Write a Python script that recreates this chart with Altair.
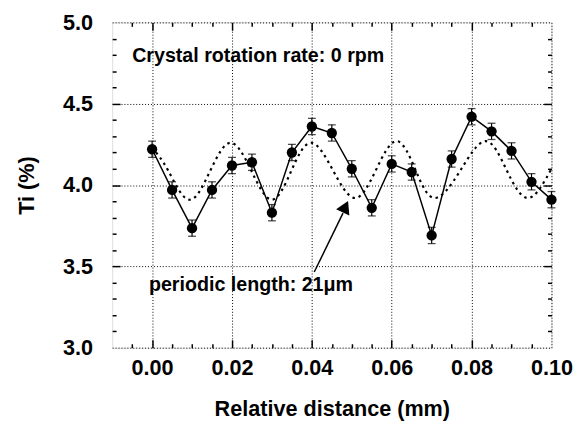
import altair as alt
import pandas as pd

# ---- data ----
distance = [0.000, 0.005, 0.010, 0.015, 0.020, 0.025, 0.030, 0.035, 0.040, 0.045, 0.050,
            0.055, 0.060, 0.065, 0.070, 0.075, 0.080, 0.085, 0.090, 0.095, 0.100]
ti = [4.22, 3.97, 3.735, 3.97, 4.12, 4.14, 3.83, 4.20, 4.36, 4.32, 4.10,
      3.86, 4.13, 4.08, 3.69, 4.16, 4.42, 4.33, 4.21, 4.02, 3.91]
ti_err = [0.05, 0.05, 0.05, 0.05, 0.05, 0.05, 0.05, 0.05, 0.05, 0.05, 0.05,
          0.05, 0.05, 0.05, 0.05, 0.05, 0.05, 0.05, 0.05, 0.05, 0.05]

# dotted periodic curve (period ~21 um), read at extrema and mid-crossings
fit_x = [0.0000, 0.0040, 0.0092, 0.0144, 0.0196, 0.0248, 0.0300, 0.0349, 0.0398, 0.0453,
         0.0508, 0.0560, 0.0612, 0.0660, 0.0708, 0.0772, 0.0835, 0.0888, 0.0942, 0.1000]
fit_y = [4.23, 4.09, 3.91, 4.08, 4.26, 4.09, 3.91, 4.09, 4.26, 4.09,
         3.92, 4.09, 4.27, 4.09, 3.92, 4.09, 4.27, 4.09, 3.92, 4.10]

x_major = [0.00, 0.02, 0.04, 0.06, 0.08, 0.10]
x_minor = [-0.005, 0.000, 0.005, 0.010, 0.015, 0.020, 0.025, 0.030, 0.035, 0.040, 0.045,
           0.050, 0.055, 0.060, 0.065, 0.070, 0.075, 0.080, 0.085, 0.090, 0.095]
y_major = [3.0, 3.5, 4.0, 4.5, 5.0]
y_minor = [3.1, 3.2, 3.3, 3.4, 3.5, 3.6, 3.7, 3.8, 3.9, 4.0,
           4.1, 4.2, 4.3, 4.4, 4.5, 4.6, 4.7, 4.8, 4.9]

note_text = ["Crystal rotation rate: 0 rpm", "periodic length: 21\u03bcm"]
note_x = [-0.0050, -0.0008]
note_y = [4.756, 3.349]

arrow_x = [0.0406]
arrow_y = [3.465]
arrow_x2 = [0.0478]
arrow_y2 = [3.827]
head_x = [0.0484]
head_y = [3.867]

# ---- tables ----
pts = pd.DataFrame({"d": distance, "ti": ti, "err": ti_err})
fit = pd.DataFrame({"d": fit_x, "ti": fit_y})
notes = pd.DataFrame({"d": note_x, "ti": note_y, "t": note_text})
arrow = pd.DataFrame({"d": arrow_x, "ti": arrow_y, "d2": arrow_x2, "ti2": arrow_y2})
head = pd.DataFrame({"d": head_x, "ti": head_y})

W, H = 447, 331
FONT = "Liberation Sans"
XS = alt.Scale(domain=[-0.01, 0.10], nice=False, zero=False)
YS = alt.Scale(domain=[3.0, 5.0], nice=False, zero=False)

x_major_test = "abs(datum.value * 50 - round(datum.value * 50)) < 0.01"
y_major_test = "abs(datum.value * 2 - round(datum.value * 2)) < 0.01"

common_lab = dict(labelFont=FONT, labelFontSize=22, labelFontWeight="bold", labelColor="black",
                  titleFont=FONT, titleFontSize=22, titleFontWeight="bold", titleColor="black")

x_main = alt.Axis(values=x_major, format=".2f", title="Relative distance (mm)", grid=True,
                  gridDash=[1, 2], gridColor="black", gridWidth=1, ticks=False, tickSize=0,
                  domain=False, labelPadding=10, titlePadding=21, labelFlush=False,
                  labelOverlap=False, **common_lab)
y_main = alt.Axis(values=y_major, format=".1f", title="Ti (%)", grid=True,
                  gridDash=[1, 2], gridColor="black", gridWidth=1, ticks=False, tickSize=0,
                  domain=False, labelPadding=20, titlePadding=24, labelOverlap=False, **common_lab)

def tick_axis(orient, offset, values, test):
    return alt.Axis(orient=orient, offset=offset, values=values, labels=False, domain=False,
                    grid=False, title=None, tickColor="black", tickWidth=1.5,
                    tickSize={"condition": {"test": test, "value": 8}, "value": 4})

x_in_bottom = tick_axis("top", -H, x_minor, x_major_test)
x_in_top = tick_axis("bottom", -H, x_minor, x_major_test)
y_in_left = tick_axis("right", -W, y_minor, y_major_test)
y_in_right = tick_axis("left", -W, y_minor, y_major_test)

curve = alt.Chart(fit).mark_line(
    color="black", strokeWidth=2.2, strokeDash=[2.5, 4], interpolate="natural"
).encode(
    x=alt.X("d:Q", scale=XS, axis=x_main),
    y=alt.Y("ti:Q", scale=YS, axis=y_main),
)

bars = alt.Chart(pts).transform_calculate(
    lo="datum.ti - datum.err", hi="datum.ti + datum.err"
).mark_rule(color="black", strokeWidth=1.2).encode(
    x=alt.X("d:Q", scale=XS, axis=x_in_bottom),
    y=alt.Y("lo:Q", scale=YS, axis=y_in_left),
    y2="hi:Q",
)

caps_lo = alt.Chart(pts).transform_calculate(
    lo="datum.ti - datum.err"
).mark_tick(color="black", thickness=1.3, size=8, orient="horizontal").encode(
    x=alt.X("d:Q", scale=XS, axis=x_in_top),
    y=alt.Y("lo:Q", scale=YS, axis=y_in_right),
)
caps_hi = alt.Chart(pts).transform_calculate(
    hi="datum.ti + datum.err"
).mark_tick(color="black", thickness=1.3, size=8, orient="horizontal").encode(
    x=alt.X("d:Q", scale=XS, axis=None),
    y=alt.Y("hi:Q", scale=YS, axis=None),
)

line = alt.Chart(pts).mark_line(color="black", strokeWidth=1.5).encode(
    x=alt.X("d:Q", scale=XS, axis=None),
    y=alt.Y("ti:Q", scale=YS, axis=None),
)
dots = alt.Chart(pts).mark_circle(color="black", size=110, opacity=1).encode(
    x=alt.X("d:Q", scale=XS, axis=None),
    y=alt.Y("ti:Q", scale=YS, axis=None),
)

texts = alt.Chart(notes).mark_text(
    align="left", baseline="alphabetic", font=FONT, fontSize=20, fontWeight="bold", color="black"
).encode(
    x=alt.X("d:Q", scale=XS, axis=None),
    y=alt.Y("ti:Q", scale=YS, axis=None),
    text="t:N",
)

arrow_line = alt.Chart(arrow).mark_rule(color="black", strokeWidth=1.5).encode(
    x=alt.X("d:Q", scale=XS, axis=None),
    y=alt.Y("ti:Q", scale=YS, axis=None),
    x2="d2:Q",
    y2="ti2:Q",
)
arrow_head = alt.Chart(head).mark_point(
    shape="triangle-up", filled=True, color="black", size=220, angle=25, opacity=1
).encode(
    x=alt.X("d:Q", scale=XS, axis=None),
    y=alt.Y("ti:Q", scale=YS, axis=None),
)

chart = alt.layer(
    curve, bars, caps_lo, caps_hi, line, dots, texts, arrow_line, arrow_head
).resolve_axis(
    x="independent", y="independent"
).properties(
    width=W, height=H,
    padding={"left": 8, "top": 0, "right": 5, "bottom": 0},
).configure_view(
    stroke="black", strokeWidth=2
).configure(background="white")

chart.save("out.html", embed_options={"renderer": "svg", "actions": False})
